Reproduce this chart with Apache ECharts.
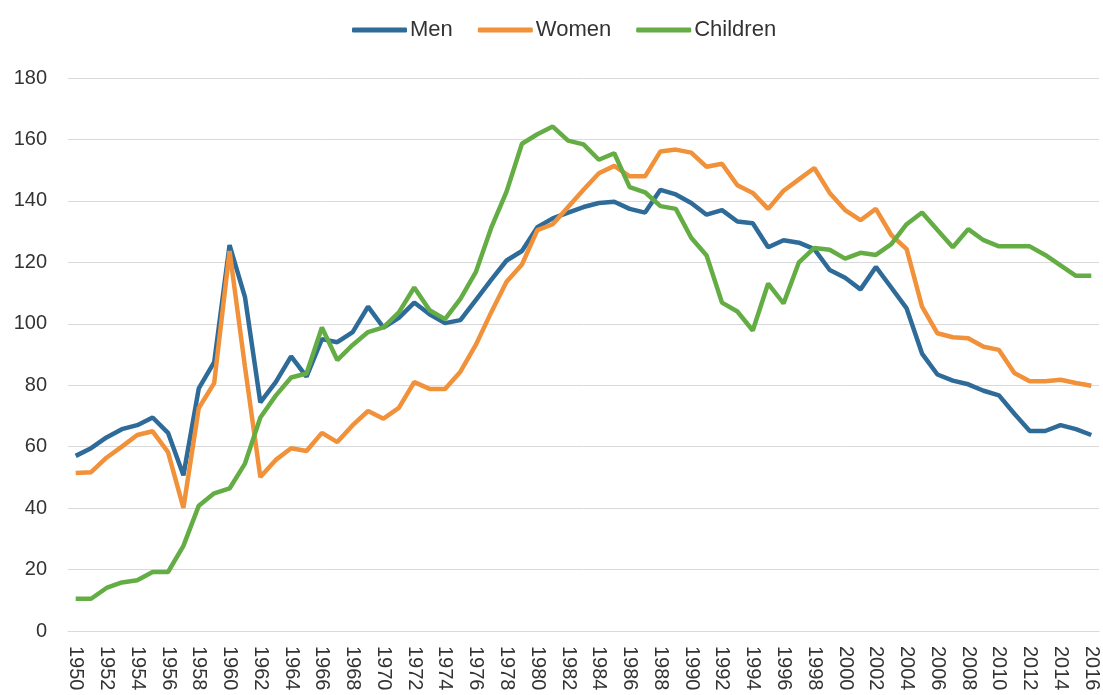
<!DOCTYPE html>
<html>
<head>
<meta charset="utf-8">
<script src="https://cdn.jsdelivr.net/npm/echarts@6/dist/echarts.min.js"></script>
<style>
html,body{margin:0;padding:0;background:#fff;}
#chart{width:1103px;height:695px;}
</style>
</head>
<body>
<div id="chart"></div>
<script>
const years = [];
for (let y = 1950; y <= 2016; y++) years.push(String(y));

const men = [
  57, 59.5, 63, 65.7, 67, 69.5, 64.5, 50.7, 79, 87.5,
  125.6, 108.7, 74.4, 81, 89.4, 82.8, 95, 94, 97.3, 105.6,
  98.8, 101.9, 106.9, 103.1, 100.2, 101.2, 107.7, 114.3, 120.6, 123.7,
  131.4, 134.3, 136.2, 138, 139.3, 139.7, 137.4, 136.2, 143.6, 142.1,
  139.3, 135.5, 137, 133.3, 132.7, 124.9, 127.2, 126.4, 124.3, 117.5,
  115, 111.2, 118.5, 111.8, 105, 90.3, 83.5, 81.5, 80.3, 78.2,
  76.7, 70.7, 65.1, 65.1, 67, 65.7, 63.8
];
const women = [
  51.4, 51.7, 56.4, 60, 63.8, 65, 58.2, 40.1, 72.6, 80.7,
  123.7, 86, 50.1, 55.7, 59.5, 58.6, 64.5, 61.5, 67, 71.6,
  69.1, 72.6, 81, 78.8, 78.8, 84.4, 93.1, 103.7, 113.7, 119.3,
  130.5, 132.4, 138, 143.6, 149, 151.4, 148, 148, 156.1, 156.7,
  155.7, 151.1, 152.1, 145.1, 142.6, 137.4, 143.3, 147, 150.7, 142.6,
  137, 133.7, 137.4, 128.9, 124.3, 105.6, 96.9, 95.6, 95.3, 92.5,
  91.5, 84, 81.3, 81.3, 81.8, 80.7, 79.8
];
const children = [
  10.5, 10.5, 14, 15.8, 16.5, 19.2, 19.2, 27.7, 40.8, 44.8,
  46.4, 54.5, 69.5, 76.6, 82.5, 83.8, 98.8, 88.2, 93.1, 97.3,
  98.8, 103.7, 111.8, 104.4, 101.5, 108.1, 116.8, 131.2, 143, 158.6,
  161.7, 164.2, 159.6, 158.4, 153.4, 155.5, 144.5, 142.8, 138.3, 137.4,
  128, 122.2, 106.9, 104, 97.8, 113.1, 106.6, 120, 124.7, 124.1,
  121.2, 123.1, 122.4, 125.9, 132.4, 136.2, 130.5, 124.9, 130.8, 127.2,
  125.2, 125.2, 125.2, 122.4, 119, 115.6, 115.6
];
const seriesNames = ['Men', 'Women', 'Children'];
const colors = ['#2E6B98', '#F1913A', '#64AD45'];

const chart = echarts.init(document.getElementById('chart'), null, {renderer: 'canvas'});
const fontFam = '"Liberation Sans", Arial, sans-serif';
chart.setOption({
  animation: false,
  color: colors,
  textStyle: {fontFamily: fontFam},
  legend: {
    data: seriesNames,
    left: 347,
    top: 14,
    icon: 'roundRect',
    itemWidth: 55,
    itemHeight: 5,
    itemGap: 25,
    textStyle: {fontSize: 22, color: '#333333', fontFamily: fontFam, padding: [0, 0, 0, -2]}
  },
  grid: {left: 68, right: 4, top: 78, bottom: 64, containLabel: false},
  xAxis: {
    type: 'category',
    data: years,
    boundaryGap: true,
    axisLine: {show: true, lineStyle: {color: '#d9d9d9', width: 1}},
    axisTick: {show: false},
    axisLabel: {interval: 1, rotate: -90, fontSize: 20, color: '#333333', margin: 15, fontFamily: fontFam},
    splitLine: {show: false}
  },
  yAxis: {
    type: 'value',
    min: 0, max: 180, interval: 20,
    axisLine: {show: false},
    axisTick: {show: false},
    axisLabel: {fontSize: 20, color: '#333333', margin: 21, fontFamily: fontFam},
    splitLine: {lineStyle: {color: '#d9d9d9', width: 1}}
  },
  series: [
    {name: seriesNames[0], type: 'line', data: men, symbol: 'none', lineStyle: {width: 4.5}},
    {name: seriesNames[1], type: 'line', data: women, symbol: 'none', lineStyle: {width: 4.5}},
    {name: seriesNames[2], type: 'line', data: children, symbol: 'none', lineStyle: {width: 4.5}}
  ]
});
</script>
</body>
</html>
